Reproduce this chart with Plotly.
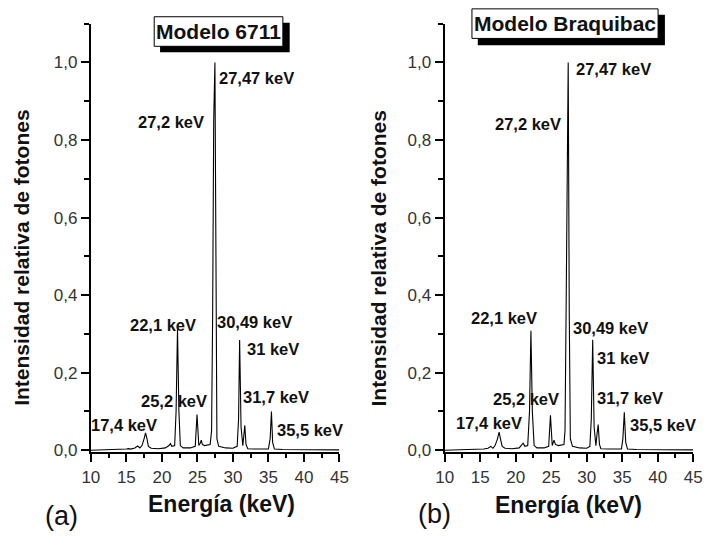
import plotly.graph_objects as go

# ---------------- data ----------------
energy_a = [10, 13.5, 14.2, 15.0, 15.3, 15.6, 16.2, 16.6, 16.9, 17.2, 17.5, 17.7, 17.9, 18.1, 18.5,
            19.5, 20.5, 21.0, 21.2, 21.4, 21.8, 22.0, 22.2, 22.4, 22.6, 23.0, 24.0, 24.7, 24.95,
            25.2, 25.4, 25.55, 25.7, 26.0, 26.8, 27.0, 27.15, 27.3, 27.47, 27.6, 27.75, 28.0,
            29.0, 30.0, 30.6, 30.8, 30.95, 31.15, 31.4, 31.55, 31.68, 31.85, 32.1, 33.0, 35.0,
            35.25, 35.43, 35.6, 35.85, 37, 40, 45]
intensity_a = [0, 0.001, 0.002, 0.003, 0.004, 0.003, 0.006, 0.011, 0.006, 0.012, 0.03, 0.045, 0.03,
               0.01, 0.005, 0.004, 0.006, 0.012, 0.017, 0.01, 0.012, 0.1, 0.312, 0.1, 0.012, 0.006,
               0.006, 0.01, 0.092, 0.012, 0.018, 0.026, 0.015, 0.012, 0.015, 0.05, 0.35, 0.85, 1.0,
               0.35, 0.03, 0.01, 0.006, 0.005, 0.01, 0.08, 0.284, 0.06, 0.012, 0.04, 0.064, 0.015,
               0.004, 0.003, 0.003, 0.03, 0.1, 0.02, 0.003, 0.002, 0.001, 0.001]

energy_b = [10, 14.6, 15.0, 15.5, 16.1, 16.5, 16.8, 17.1, 17.45, 17.67, 17.85, 18.1, 18.5,
            19.5, 20.5, 20.85, 21.05, 21.3, 21.7, 21.95, 22.15, 22.35, 22.6, 23.0, 24.0, 24.65, 24.9,
            25.15, 25.3, 25.4, 25.6, 26.0, 26.8, 26.95, 27.1, 27.25, 27.4, 27.55, 27.7, 28.0,
            29.0, 30.0, 30.45, 30.65, 30.85, 31.05, 31.3, 31.45, 31.62, 31.8, 32.0, 33.0, 34.9,
            35.1, 35.3, 35.5, 35.75, 37, 40, 45]
intensity_b = [0, 0.001, 0.002, 0.003, 0.005, 0.01, 0.005, 0.012, 0.03, 0.047, 0.03,
               0.01, 0.005, 0.004, 0.006, 0.012, 0.018, 0.01, 0.012, 0.1, 0.308, 0.1, 0.012, 0.006,
               0.006, 0.01, 0.09, 0.012, 0.018, 0.026, 0.015, 0.012, 0.015, 0.05, 0.35, 0.85, 1.0,
               0.35, 0.03, 0.01, 0.006, 0.005, 0.01, 0.08, 0.285, 0.06, 0.012, 0.04, 0.066, 0.015,
               0.004, 0.003, 0.003, 0.03, 0.098, 0.02, 0.003, 0.002, 0.001, 0.001]

peak_labels = ["27,47 keV", "27,2 keV", "22,1 keV", "30,49 keV", "31 keV",
               "25,2 keV", "31,7 keV", "17,4 keV", "35,5 keV"]
label_x_a = [27.7, 21.3, 20.1, 33.1, 35.7, 21.7, 36.1, 14.7, 40.9]
label_y_a = [0.959, 0.847, 0.322, 0.331, 0.26, 0.127, 0.137, 0.064, 0.051]
label_x_b = [28.25, 21.7, 18.4, 33.3, 35.1, 21.4, 36.1, 16.3, 40.7]
label_y_b = [0.982, 0.84, 0.341, 0.316, 0.239, 0.132, 0.135, 0.069, 0.064]

titles = ["Modelo 6711", "Modelo Braquibac"]
panel_tags = ["(a)", "(b)"]
x_ticks = [10, 15, 20, 25, 30, 35, 40, 45]
y_ticks = [0.0, 0.2, 0.4, 0.6, 0.8, 1.0]
y_ticklabels = ["0,0", "0,2", "0,4", "0,6", "0,8", "1,0"]

# ---------------- figure ----------------
W, H = 709, 538
FONT = "Liberation Sans, Arial, sans-serif"


def px(xp):
    return xp / W


def py(yp):
    return 1 - yp / H


fig = go.Figure()
fig.add_trace(go.Scatter(x=energy_a, y=intensity_a, mode="lines",
                         line=dict(color="black", width=1.1), xaxis="x", yaxis="y",
                         showlegend=False, hoverinfo="skip"))
fig.add_trace(go.Scatter(x=energy_b, y=intensity_b, mode="lines",
                         line=dict(color="black", width=1.1), xaxis="x2", yaxis="y2",
                         showlegend=False, hoverinfo="skip"))

ydom = [py(459), py(24)]


def xaxis(domain, anchor):
    return dict(domain=domain, anchor=anchor, range=[10, 45], tickvals=x_ticks,
                showline=True, linecolor="black", linewidth=2, mirror=False,
                ticks="outside", ticklen=8, tickwidth=1.5, tickcolor="black",
                showgrid=False, zeroline=False,
                tickfont=dict(family=FONT, size=17, color="#333"),
                minor=dict(dtick=2.5, tick0=10, ticks="outside", ticklen=4, tickwidth=1.5,
                           tickcolor="black", showgrid=False))


def yaxis(domain, anchor):
    return dict(domain=domain, anchor=anchor, range=[-0.005, 1.1], tickvals=y_ticks,
                ticktext=y_ticklabels,
                showline=True, linecolor="black", linewidth=2,
                ticks="outside", ticklen=8, tickwidth=1.5, tickcolor="black",
                showgrid=False, zeroline=False,
                tickfont=dict(family=FONT, size=17, color="#333"),
                minor=dict(dtick=0.1, tick0=0, ticks="outside", ticklen=5, tickwidth=1.5,
                           tickcolor="black", showgrid=False))


fig.update_layout(
    width=W, height=H, margin=dict(l=0, r=0, t=0, b=0),
    paper_bgcolor="white", plot_bgcolor="white",
    xaxis=xaxis([px(84), px(339)], "y"),
    yaxis=yaxis(ydom, "x"),
    xaxis2=xaxis([px(447), px(702)], "y2"),
    yaxis2=yaxis(ydom, "x2"),
)

annotations = []
for lx, ly, xr, yr in [(label_x_a, label_y_a, "x", "y"), (label_x_b, label_y_b, "x2", "y2")]:
    for i, t in enumerate(peak_labels):
        annotations.append(dict(x=lx[i], y=ly[i], xref=xr, yref=yr, text="<b>" + t + "</b>",
                                showarrow=False, xanchor="left" if i == 0 else "center",
                                yanchor="middle",
                                font=dict(family=FONT, size=16.5, color="#111")))

# axis titles and panel tags
for cx, cy in [(218, 512), (574, 513)]:
    annotations.append(dict(x=px(cx), y=py(cy), xref="paper", yref="paper",
                            text="<b>Energía (keV)</b>", showarrow=False,
                            xanchor="center", yanchor="middle",
                            font=dict(family=FONT, size=23, color="#111")))
for cx, cy in [(12, 262), (379, 262)]:
    annotations.append(dict(x=px(cx), y=py(cy), xref="paper", yref="paper",
                            text="<b>Intensidad relativa de fotones</b>", showarrow=False,
                            textangle=-90, xanchor="center", yanchor="middle",
                            font=dict(family=FONT, size=21, color="#111")))
for tag, cx, cy in [(panel_tags[0], 54, 524), (panel_tags[1], 437, 522)]:
    annotations.append(dict(x=px(cx), y=py(cy), xref="paper", yref="paper",
                            text=tag, showarrow=False, xanchor="center", yanchor="middle",
                            font=dict(family=FONT, size=27, color="#111")))

# title boxes with shadow
shapes = []
boxes = [((149, 17, 281, 47), (155, 23, 288, 53), (215, 32)),
         ((475, 9, 666, 39), (481, 15, 673, 46), (570, 24))]
for k, (box, shadow, center) in enumerate(boxes):
    shapes.append(dict(type="rect", xref="paper", yref="paper",
                       x0=px(shadow[0]), x1=px(shadow[2]), y0=py(shadow[3]), y1=py(shadow[1]),
                       fillcolor="black", line=dict(width=0), layer="above"))
    shapes.append(dict(type="rect", xref="paper", yref="paper",
                       x0=px(box[0]), x1=px(box[2]), y0=py(box[3]), y1=py(box[1]),
                       fillcolor="white", line=dict(color="black", width=1), layer="above"))
    annotations.append(dict(x=px(center[0]), y=py(center[1]), xref="paper", yref="paper",
                            text="<b>" + titles[k] + "</b>", showarrow=False,
                            xanchor="center", yanchor="middle",
                            font=dict(family=FONT, size=21, color="#111")))

fig.update_layout(annotations=annotations, shapes=shapes)
fig.write_html("out.html")
